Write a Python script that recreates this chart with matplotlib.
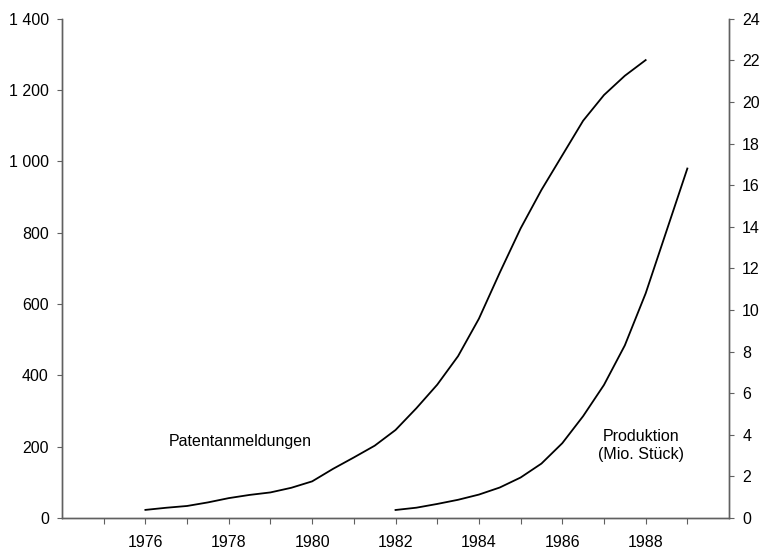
import matplotlib
matplotlib.use("Agg")
from matplotlib import pyplot as plt
from matplotlib.ticker import FuncFormatter

# half-year readings
pat_years = [1976.0, 1976.5, 1977.0, 1977.5, 1978.0, 1978.5, 1979.0, 1979.5,
             1980.0, 1980.5, 1981.0, 1981.5, 1982.0, 1982.5, 1983.0, 1983.5,
             1984.0, 1984.5, 1985.0, 1985.5, 1986.0, 1986.5, 1987.0, 1987.5, 1988.0]
patente = [23, 29, 34, 44, 56, 65, 72, 85,
           103, 138, 170, 203, 247, 308, 374, 454,
           559, 688, 812, 920, 1017, 1114, 1186, 1240, 1284]

prod_years = [1982.0, 1982.5, 1983.0, 1983.5, 1984.0, 1984.5, 1985.0, 1985.5,
              1986.0, 1986.5, 1987.0, 1987.5, 1988.0, 1988.5, 1989.0]
produktion = [0.39, 0.5, 0.68, 0.88, 1.13, 1.47, 1.95, 2.62,
              3.6, 4.9, 6.4, 8.3, 10.8, 13.8, 16.8]

year_ticks = list(range(1975, 1990))
year_labels = [str(y) if y % 2 == 0 else "" for y in year_ticks]

plt.rcParams["font.family"] = ["Liberation Sans", "DejaVu Sans"]
plt.rcParams["font.size"] = 11.5
axis_col = "#606060"

fig = plt.figure(figsize=(7.61, 5.5), dpi=100)
ax = fig.add_axes([0.0815, 0.058, 0.8765, 0.908])
ax2 = ax.twinx()

ax.plot(pat_years, patente, color="black", lw=1.3)
ax2.plot(prod_years, produktion, color="black", lw=1.3)

ax.set_xlim(1974, 1990)
ax.set_ylim(0, 1400)
ax2.set_ylim(0, 24)
ax.set_yticks(range(0, 1401, 200))
ax2.set_yticks(range(0, 25, 2))
ax.yaxis.set_major_formatter(FuncFormatter(lambda v, p: f"{int(v):,}".replace(",", " ")))
ax.set_xticks(year_ticks)
ax.set_xticklabels(year_labels)

for a in (ax, ax2):
    a.spines["top"].set_visible(False)
    for s in ("left", "right", "bottom"):
        a.spines[s].set_color(axis_col)
        a.spines[s].set_linewidth(1.0)
ax.tick_params(axis="x", length=4, color=axis_col, pad=8)
ax.tick_params(axis="y", length=3.5, color=axis_col, pad=6)
ax2.tick_params(axis="y", length=3.5, color=axis_col, pad=6)

ax.text(1978.27, 214, "Patentanmeldungen", ha="center", va="center")
ax.text(1987.9, 203, "Produktion\n(Mio. Stück)", ha="center", va="center",
        linespacing=1.2)

fig.savefig("out.png", dpi=100)
